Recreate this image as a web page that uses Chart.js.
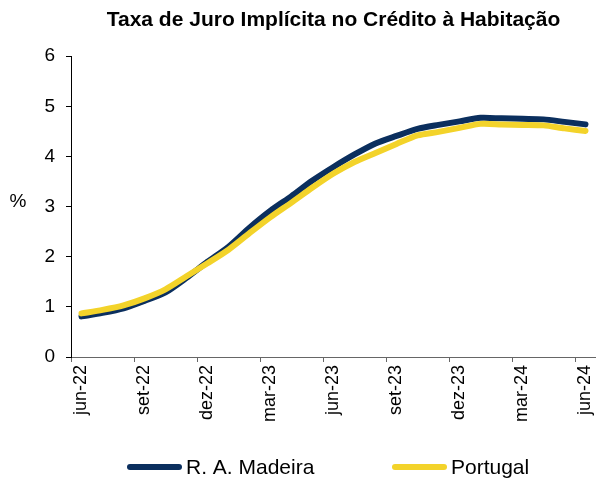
<!DOCTYPE html>
<html>
<head>
<meta charset="utf-8">
<script src="https://cdn.jsdelivr.net/npm/chart.js@4/dist/chart.umd.min.js"></script>
<style>
	body { margin: 0; background: #fff; }
	#wrap { width: 596px; height: 479px; position: relative; }
</style>
</head>
<body>
<div id="wrap"><canvas id="mycanvas"></canvas></div>
<script>
// months jun-22 .. jun-24
var months = ["jun-22","jul-22","ago-22","set-22","out-22","nov-22","dez-22","jan-23","fev-23","mar-23","abr-23","mai-23",
	"jun-23","jul-23","ago-23","set-23","out-23","nov-23","dez-23","jan-24","fev-24","mar-24","abr-24","mai-24","jun-24"];
var madeira = [0.81, 0.88, 0.97, 1.12, 1.29, 1.58, 1.90, 2.20, 2.58, 2.92, 3.21, 3.52, 3.79,
	4.04, 4.26, 4.41, 4.55, 4.63, 4.70, 4.77, 4.76, 4.75, 4.74, 4.69, 4.64];
var portugal = [0.87, 0.94, 1.03, 1.17, 1.35, 1.61, 1.87, 2.14, 2.47, 2.79, 3.08, 3.38, 3.66,
	3.89, 4.07, 4.25, 4.42, 4.49, 4.57, 4.65, 4.64, 4.63, 4.62, 4.56, 4.51];
var yTicks = [0, 1, 2, 3, 4, 5, 6];

var FONT = "'Liberation Sans', Arial, sans-serif";
Chart.defaults.font.family = FONT;
Chart.defaults.color = "#000";

// "%" next to the y axis, drawn horizontal
var percentLabel = {
	id: "percentLabel",
	afterDraw: function(chart) {
		var ctx = chart.ctx;
		var mid = (chart.chartArea.top + chart.chartArea.bottom) / 2;
		ctx.save();
		ctx.font = "19px " + FONT;
		ctx.fillStyle = "#000";
		ctx.textAlign = "center";
		ctx.textBaseline = "middle";
		ctx.fillText("%", 18, mid - 5);
		ctx.restore();
	}
};

// legend under the axis labels, two wide-spaced entries
var bottomLegend = {
	id: "bottomLegend",
	afterDraw: function(chart) {
		var ctx = chart.ctx;
		var y = 467;
		var starts = [130, 395];
		ctx.save();
		ctx.font = "21px " + FONT;
		ctx.textBaseline = "middle";
		ctx.textAlign = "left";
		chart.data.datasets.forEach(function(ds, i) {
			var x = starts[i];
			ctx.strokeStyle = ds.borderColor;
			ctx.lineWidth = ds.borderWidth;
			ctx.lineCap = "round";
			ctx.beginPath();
			ctx.moveTo(x, y);
			ctx.lineTo(x + 49, y);
			ctx.stroke();
			ctx.fillStyle = "#000";
			ctx.fillText(ds.label, x + 56, y + 1);
		});
		ctx.restore();
	}
};

var chartdata = {
	labels: months,
	datasets: [
		{
			label: "R. A. Madeira",
			data: madeira,
			borderColor: "#0b2f5e",
			backgroundColor: "#0b2f5e",
			borderWidth: 6,
			borderCapStyle: "round",
			borderJoinStyle: "round",
			pointRadius: 0,
			tension: 0.25,
			order: 1
		},
		{
			label: "Portugal",
			data: portugal,
			borderColor: "#f3d32a",
			backgroundColor: "#f3d32a",
			borderWidth: 6,
			borderCapStyle: "round",
			borderJoinStyle: "round",
			pointRadius: 0,
			tension: 0.25,
			order: 0
		}
	]
};

var ctx = document.getElementById("mycanvas");

var lineGraph = new Chart(ctx, {
	type: "line",
	data: chartdata,
	plugins: [percentLabel, bottomLegend],
	options: {
		responsive: true,
		maintainAspectRatio: false,
		animation: false,
		layout: { padding: { left: 0, right: 0, top: 0, bottom: 55 } },
		plugins: {
			title: {
				display: true,
				text: "Taxa de Juro Implícita no Crédito à Habitação",
				fullSize: false,
				font: { size: 21, weight: "bold" },
				color: "#000",
				padding: { top: 8, bottom: 23 }
			},
			legend: { display: false },
			tooltip: { enabled: false }
		},
		scales: {
			x: {
				offset: true,
				afterFit: function(scale) {
					scale.height = 67;
					scale.paddingLeft = 0;
					scale.paddingRight = 0;
				},
				grid: {
					offset: true,
					drawOnChartArea: false,
					tickLength: 5,
					color: function(c) {
						return (c.index !== undefined && c.index % 3 === 0) ? "#666" : "rgba(0,0,0,0)";
					}
				},
				border: { color: "#666", width: 1 },
				ticks: {
					autoSkip: false,
					maxRotation: 90,
					minRotation: 90,
					padding: 3,
					font: { size: 18 },
					color: "#000",
					callback: function(val, i) { return i % 3 === 0 ? months[i] : ""; }
				}
			},
			y: {
				min: yTicks[0],
				max: yTicks[yTicks.length - 1],
				afterFit: function(scale) { scale.width = 71; },
				afterBuildTicks: function(scale) {
					scale.ticks = yTicks.map(function(v) { return { value: v }; });
				},
				grid: { drawOnChartArea: false, tickLength: 5, color: "#000" },
				border: { color: "#000", width: 1 },
				ticks: { padding: 11, font: { size: 19 }, color: "#000" }
			}
		}
	}
});
</script>
</body>
</html>
